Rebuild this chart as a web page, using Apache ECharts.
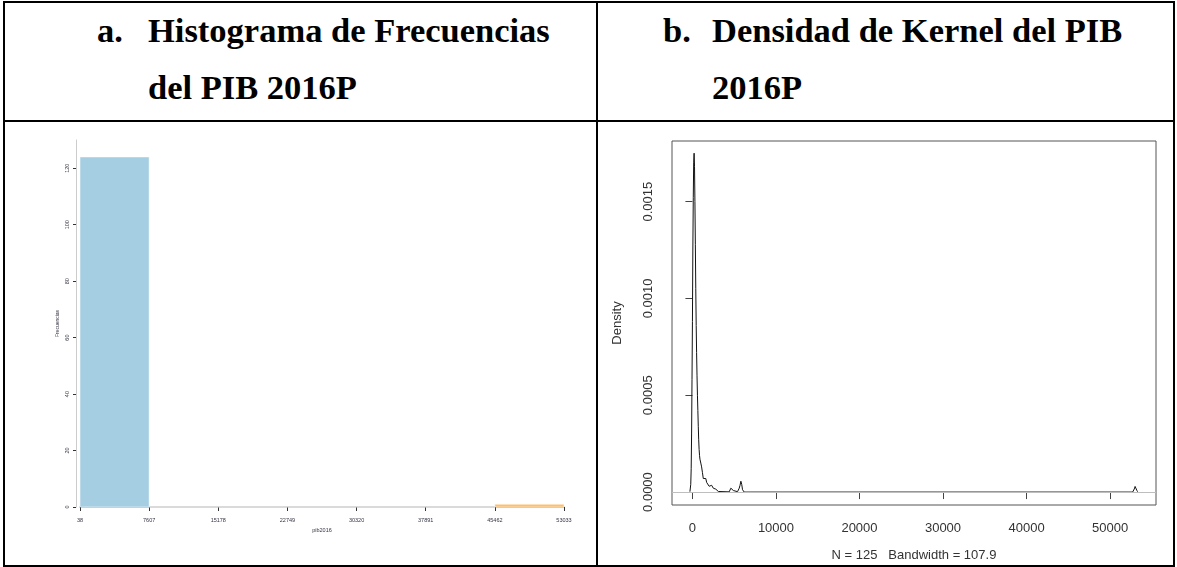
<!DOCTYPE html>
<html><head><meta charset="utf-8">
<script src="https://cdn.jsdelivr.net/npm/echarts@6/dist/echarts.min.js"></script>
<style>
html,body{margin:0;padding:0;background:#fff;}
#wrap{position:relative;width:1177px;height:567px;overflow:hidden;background:#fff;}
.ln{position:absolute;background:#000;}
.hd{position:absolute;font-family:"Liberation Serif",serif;font-weight:bold;font-size:34.5px;color:#000;white-space:nowrap;line-height:1;}
#chart{position:absolute;left:0;top:0;width:1177px;height:567px;}
</style></head><body>
<div id="wrap">
  <div class="ln" style="left:3px;top:1px;width:1172px;height:2px"></div>
  <div class="ln" style="left:3px;top:120px;width:1172px;height:2px"></div>
  <div class="ln" style="left:3px;top:565px;width:1172px;height:2px"></div>
  <div class="ln" style="left:3px;top:1px;width:2px;height:566px"></div>
  <div class="ln" style="left:596px;top:1px;width:2px;height:566px"></div>
  <div class="ln" style="left:1173px;top:1px;width:2px;height:566px"></div>
  <div class="hd" style="left:97px;top:13px">a.</div>
  <div class="hd" style="left:148px;top:13px">Histograma de Frecuencias</div>
  <div class="hd" style="left:148px;top:70px">del PIB 2016P</div>
  <div class="hd" style="left:663px;top:13px">b.</div>
  <div class="hd" style="left:712px;top:13px">Densidad de Kernel del PIB</div>
  <div class="hd" style="left:712px;top:70px">2016P</div>
  <div id="chart"></div>
</div>
<script>
// ---- Histogram data ----
const binEdges = [38, 7607, 15178, 22749, 30320, 37891, 45462, 53033];
const binCounts = [124, 0, 0, 0, 0, 0, 1];
const binColors = ['#A6CEE3', '#1F78B4', '#B2DF8A', '#33A02C', '#FB9A99', '#E31A1C', '#FDBF6F'];
const histYTicks = [0, 20, 40, 60, 80, 100, 120];

// ---- Kernel density data ----
const densX = [-300, -250, -200, -150, -100, -50, 0, 50, 100, 150, 200, 250, 300, 350, 400, 450, 500, 550, 600, 650, 700, 750, 800, 850, 900, 1000, 1100, 1200, 1300, 1400, 1500, 1600, 1700, 1800, 1900, 2000, 2100, 2200, 2300, 2400, 2500, 2600, 2700, 2800, 2900, 3000, 3100, 3200, 3300, 4400, 4500, 4600, 4700, 4800, 4900, 5000, 5400, 5500, 5600, 5700, 5800, 5900, 6000, 6100, 6200, 52700, 52800, 52900, 53000, 53100, 53200, 53300, 53357];
const densY = [0.000002, 0.00001, 0.00004, 0.00012, 0.0003, 0.00058, 0.00088, 0.00125, 0.00152, 0.0017, 0.00175, 0.00168, 0.0015, 0.00128, 0.00105, 0.00086, 0.00072, 0.0006, 0.0005, 0.00042, 0.00034, 0.00027, 0.00022, 0.00019, 0.00017, 0.00015, 0.00013, 0.0001, 0.00007, 0.00008, 0.00006, 0.00007, 0.00005, 0.00004, 0.00005, 0.00003, 0.00004, 0.00003, 0.000035, 0.00003, 0.00002, 0.00003, 0.000025, 0.000015, 0.00002, 0.00001, 0.000003, 0.0000005, 0, 0.000001, 0.000008, 0.00002, 0.000029, 0.00002, 0.000008, 0.000001, 0.000002, 0.00001, 0.00002, 0.000035, 0.000056, 0.00004, 0.000012, 0.000002, 0, 0, 0.000003, 0.000016, 0.000029, 0.000024, 0.000009, 0.000002, 0];
const densXTicks = [0, 10000, 20000, 30000, 40000, 50000];
const densYTicks = [0, 0.0005, 0.001, 0.0015];
const densName = 'N = 125   Bandwidth = 107.9';

const chart = echarts.init(document.getElementById('chart'), null, {renderer: 'canvas'});
const histData = binCounts.map((c, i) => [binEdges[i], binEdges[i + 1], c]);
const densData = densX.map((x, i) => [x, densY[i]]);
const plain = v => String(Math.round(v));

chart.setOption({
  animation: false,
  backgroundColor: 'transparent',
  grid: [
    {left: 80, top: 140, width: 484, height: 367, show: false},
    {left: 672, top: 141, width: 484, height: 366, show: true, borderColor: '#555', borderWidth: 1, backgroundColor: 'transparent'}
  ],
  xAxis: [
    {
      gridIndex: 0, type: 'value', min: 38, max: 53033, offset: 6,
      splitLine: {show: false},
      axisLine: {show: true, lineStyle: {color: '#aaa', width: 1.5}},
      axisTick: {show: true, customValues: binEdges, length: 4, lineStyle: {color: '#333'}},
      axisLabel: {customValues: binEdges, fontSize: 5.5, color: '#334', margin: 4, fontFamily: 'Liberation Sans', formatter: plain},
      name: 'pib2016', nameLocation: 'middle', nameGap: 10,
      nameTextStyle: {fontSize: 5.5, color: '#334', fontFamily: 'Liberation Sans'}
    },
    {
      gridIndex: 1, type: 'value', min: -2446, max: 55500,
      splitLine: {show: false},
      axisLine: {show: false},
      axisTick: {show: true, customValues: densXTicks, length: 7, lineStyle: {color: '#444'}},
      axisLabel: {customValues: densXTicks, fontSize: 13, color: '#333', margin: 17, fontFamily: 'Liberation Sans', formatter: plain},
      name: densName, nameLocation: 'middle', nameGap: 44,
      nameTextStyle: {fontSize: 13, color: '#333', fontFamily: 'Liberation Sans'}
    }
  ],
  yAxis: [
    {
      gridIndex: 0, type: 'value', min: 0, max: 130, offset: 4,
      splitLine: {show: false},
      axisLine: {show: true, lineStyle: {color: '#ccc', width: 1}},
      axisTick: {show: true, customValues: histYTicks, length: 3, lineStyle: {color: '#333'}},
      axisLabel: {customValues: histYTicks, rotate: 90, fontSize: 5.5, color: '#334', margin: 6, fontFamily: 'Liberation Sans', formatter: plain},
      name: 'Frecuencias', nameLocation: 'middle', nameRotate: 90, nameGap: 16,
      nameTextStyle: {fontSize: 5, color: '#334', fontFamily: 'Liberation Sans'}
    },
    {
      gridIndex: 1, type: 'value', min: -0.0000668, max: 0.001813,
      splitLine: {show: false},
      axisLine: {show: false},
      axisTick: {show: true, customValues: densYTicks, length: 7, lineStyle: {color: '#444'}},
      axisLabel: {customValues: densYTicks, rotate: 90, fontSize: 13, color: '#333', margin: 17, fontFamily: 'Liberation Sans',
        formatter: v => Number(v).toFixed(4)},
      name: 'Density', nameLocation: 'middle', nameRotate: 90, nameGap: 48,
      nameTextStyle: {fontSize: 13, color: '#333', fontFamily: 'Liberation Sans'}
    }
  ],
  series: [
    {
      type: 'custom', xAxisIndex: 0, yAxisIndex: 0,
      data: histData,
      encode: {x: [0, 1], y: 2},
      renderItem: function (params, api) {
        const p0 = api.coord([api.value(0), 0]);
        const p1 = api.coord([api.value(1), api.value(2)]);
        return {
          type: 'rect',
          shape: {x: p0[0], y: p1[1], width: p1[0] - p0[0], height: p0[1] - p1[1]},
          style: {fill: binColors[params.dataIndex], stroke: '#fff', lineWidth: 0.5}
        };
      }
    },
    {
      type: 'line', xAxisIndex: 1, yAxisIndex: 1,
      data: densData, showSymbol: false, symbol: 'none',
      lineStyle: {color: '#111', width: 1},
      markLine: {
        silent: true, symbol: 'none', animation: false,
        label: {show: false},
        lineStyle: {color: '#bebebe', width: 1, type: 'solid'},
        data: [{yAxis: 0}]
      }
    }
  ]
});
</script>
</body></html>
